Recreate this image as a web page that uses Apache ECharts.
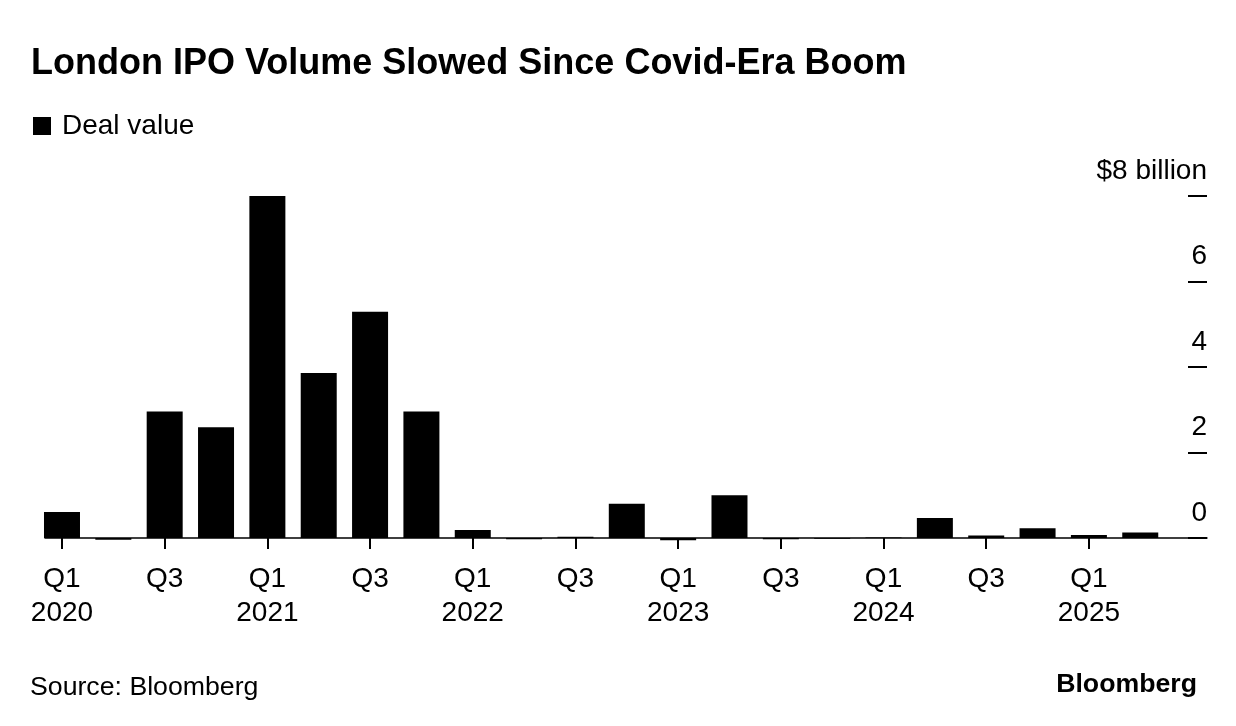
<!DOCTYPE html>
<html>
<head>
<meta charset="utf-8">
<script src="https://cdn.jsdelivr.net/npm/echarts@6/dist/echarts.min.js"></script>
<style>
html,body{margin:0;padding:0;background:#fff;}
#c{width:1236px;height:726px;}
</style>
</head>
<body>
<div id="c"></div>
<script>
// Data
const quarters = ['Q1 2020','Q2 2020','Q3 2020','Q4 2020','Q1 2021','Q2 2021','Q3 2021','Q4 2021',
  'Q1 2022','Q2 2022','Q3 2022','Q4 2022','Q1 2023','Q2 2023','Q3 2023','Q4 2023',
  'Q1 2024','Q2 2024','Q3 2024','Q4 2024','Q1 2025','Q2 2025'];
const dealValue = [0.61, -0.04, 2.96, 2.59, 8.0, 3.86, 5.29, 2.96,
  0.19, -0.03, 0.03, 0.80, -0.05, 1.00, -0.03, -0.02,
  0.01, 0.47, 0.06, 0.23, 0.07, 0.13];
const xTickIdx = [0, 2, 4, 6, 8, 10, 12, 14, 16, 18, 20];
const yTicks = [0, 2, 4, 6, 8];
const yUnit = '$8 billion';

const FONT = '"Liberation Sans", Arial, sans-serif';
const chart = echarts.init(document.getElementById('c'), null, {renderer: 'canvas'});
chart.setOption({
  backgroundColor: '#fff',
  animation: false,
  textStyle: {fontFamily: FONT},
  title: [
    {text: 'London IPO Volume Slowed Since Covid-Era Boom', left: 26, top: 41,
     textStyle: {fontFamily: FONT, fontSize: 36, fontWeight: 'bold', color: '#000'}},
    {text: 'Source: Bloomberg', left: 25, top: 669,
     textStyle: {fontFamily: FONT, fontSize: 26.7, fontWeight: 'normal', color: '#000'}},
    {text: 'Bloomberg', right: 34, top: 666,
     textStyle: {fontFamily: FONT, fontSize: 26.7, fontWeight: 'bold', color: '#000'}}
  ],
  legend: {
    left: 28, top: 107, icon: 'rect', itemWidth: 18, itemHeight: 18, itemGap: 10,
    textStyle: {fontFamily: FONT, fontSize: 28, color: '#000', padding: [0, 0, 0, 6]},
    data: ['Deal value']
  },
  grid: {left: 45, right: 29, top: 196, bottom: 188},
  xAxis: {
    type: 'value', min: -0.331, max: 22.3,
    axisLine: {show: true, lineStyle: {color: '#000', width: 1.5}},
    axisTick: {show: true, customValues: xTickIdx, length: 11, lineStyle: {color: '#000', width: 2}},
    axisLabel: {
      customValues: xTickIdx, fontFamily: FONT, fontSize: 28, color: '#000', lineHeight: 34, margin: 24,
      formatter: function (v) {
        const q = quarters[Math.round(v)];
        if (!q) return '';
        const parts = q.split(' ');
        return parts[0] === 'Q1' ? parts[0] + '\n' + parts[1] : parts[0];
      }
    },
    splitLine: {show: false}
  },
  yAxis: {
    type: 'value', position: 'right', min: 0, max: 8, interval: 2,
    axisLine: {show: false, onZero: false},
    axisTick: {show: true, inside: true, length: 19, lineStyle: {color: '#000', width: 2}},
    axisLabel: {
      inside: true, margin: 0, fontFamily: FONT, fontSize: 28, color: '#000',
      verticalAlign: 'bottom', padding: [0, 0, 11, 0],
      formatter: function (v) { return v === yTicks[yTicks.length - 1] ? yUnit : String(v); }
    },
    splitLine: {show: false}
  },
  series: [{
    name: 'Deal value', type: 'bar', barWidth: 36, clip: false,
    itemStyle: {color: '#000'},
    data: dealValue.map(function (v, i) { return [i, v]; })
  }]
});
</script>
</body>
</html>
